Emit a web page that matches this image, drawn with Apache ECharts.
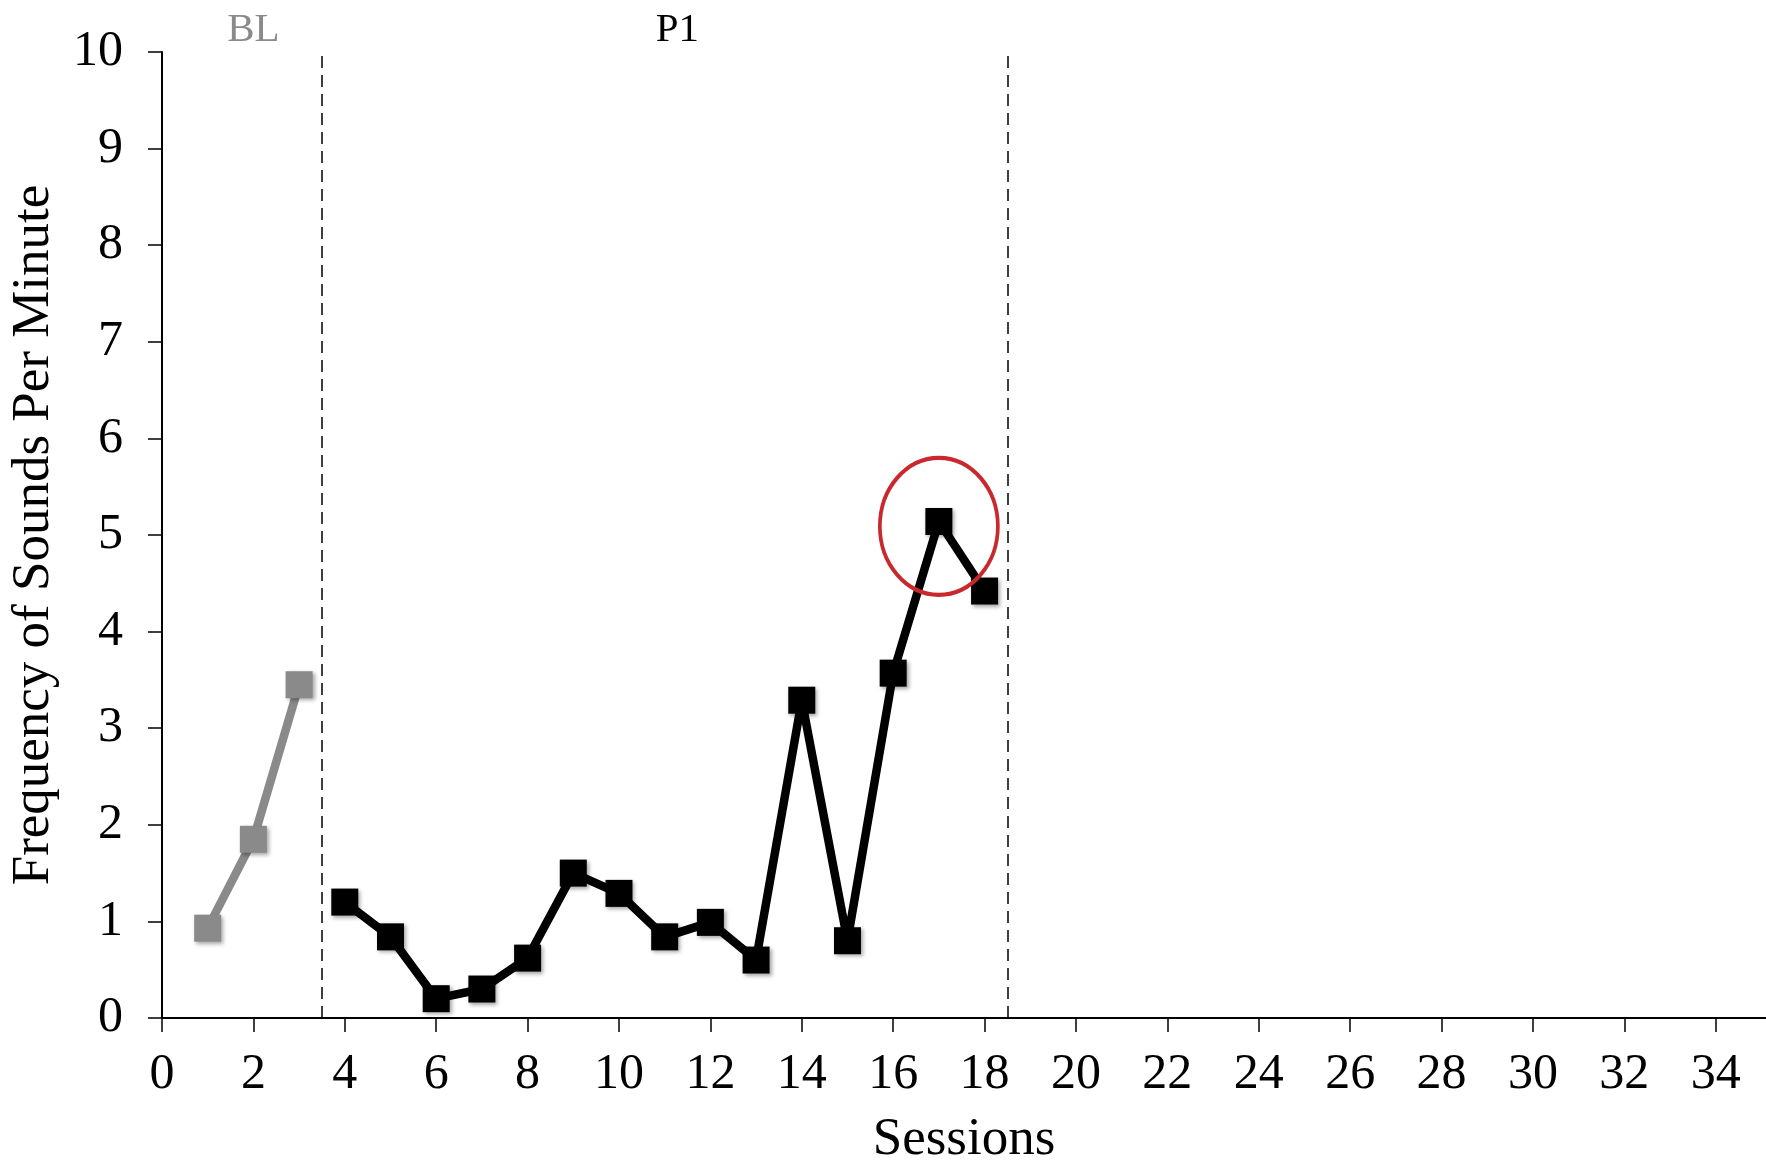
<!DOCTYPE html>
<html>
<head>
<meta charset="utf-8">
<script src="https://cdn.jsdelivr.net/npm/echarts@6/dist/echarts.min.js"></script>
<style>
html,body{margin:0;padding:0;background:#fff;}
#chart{width:1766px;height:1172px;}
</style>
</head>
<body>
<div id="chart"></div>
<script>
const blSessions = [1, 2, 3];
const blValues = [0.93, 1.85, 3.45];
const p1Sessions = [4, 5, 6, 7, 8, 9, 10, 11, 12, 13, 14, 15, 16, 17, 18];
const p1Values = [1.2, 0.84, 0.2, 0.3, 0.62, 1.5, 1.29, 0.84, 0.99, 0.6, 3.29, 0.8, 3.57, 5.14, 4.42];
const phaseLines = [3.5, 18.5];
const phaseLabels = [{ text: 'BL', x: 2, color: '#8a8a8a' }, { text: 'P1', x: 11.28, color: '#000' }];
const highlight = [17, 5.09];

const FONT = '"Liberation Serif", "DejaVu Serif", serif';
const chart = echarts.init(document.getElementById('chart'));

const option = {
  animation: false,
  backgroundColor: '#fff',
  grid: { left: 161, right: 0, top: 52, bottom: 145 },
  xAxis: {
    type: 'value', min: 0, max: 35.1, interval: 2,
    name: 'Sessions', nameLocation: 'middle', nameGap: 96,
    nameTextStyle: { fontFamily: FONT, fontSize: 53, color: '#000' },
    axisLine: { show: true, onZero: false, lineStyle: { color: '#000', width: 2 } },
    axisTick: { show: true, length: 14, lineStyle: { color: '#000', width: 1.5 } },
    axisLabel: { fontFamily: FONT, fontSize: 50, color: '#000', margin: 32, showMaxLabel: false },
    splitLine: { show: false }
  },
  yAxis: {
    type: 'value', min: 0, max: 10, interval: 1,
    name: 'Frequency of Sounds Per Minute', nameLocation: 'middle', nameGap: 101,
    nameTextStyle: { fontFamily: FONT, fontSize: 53, color: '#000' },
    axisLine: { show: true, lineStyle: { color: '#000', width: 2 } },
    axisTick: { show: true, length: 14, lineStyle: { color: '#000', width: 1.5 } },
    axisLabel: { fontFamily: FONT, fontSize: 50, color: '#000', margin: 39 },
    splitLine: { show: false }
  },
  series: [
    {
      name: 'BL', type: 'line',
      data: blSessions.map((s, i) => [s, blValues[i]]),
      symbol: 'rect', symbolSize: 27,
      lineStyle: { color: '#8a8a8a', width: 8.5 },
      itemStyle: { color: '#8a8a8a', shadowBlur: 4, shadowColor: 'rgba(0,0,0,0.35)', shadowOffsetX: 2, shadowOffsetY: 2 },
      markLine: {
        silent: true, symbol: 'none', label: { show: false },
        lineStyle: { color: '#000', width: 1.5, type: [12, 7] },
        data: phaseLines.map(v => ({ xAxis: v }))
      }
    },
    {
      name: 'P1', type: 'line',
      data: p1Sessions.map((s, i) => [s, p1Values[i]]),
      symbol: 'rect', symbolSize: 27,
      lineStyle: { color: '#000', width: 8.5 },
      itemStyle: { color: '#000', shadowBlur: 4, shadowColor: 'rgba(0,0,0,0.35)', shadowOffsetX: 2, shadowOffsetY: 2 },
      markPoint: {
        silent: true,
        symbol: 'circle', symbolSize: [118, 137],
        itemStyle: { color: 'rgba(0,0,0,0)', borderColor: '#c9282d', borderWidth: 4 },
        label: { show: false },
        data: [{ coord: highlight }]
      }
    }
  ]
};
chart.setOption(option);

const gfx = phaseLabels.map(p => {
  const px = chart.convertToPixel({ xAxisIndex: 0 }, p.x);
  return {
    type: 'text', x: px, y: 30,
    style: { text: p.text, fill: p.color, font: '41px ' + FONT, textAlign: 'center', textVerticalAlign: 'middle' }
  };
});
chart.setOption({ graphic: gfx });
</script>
</body>
</html>
